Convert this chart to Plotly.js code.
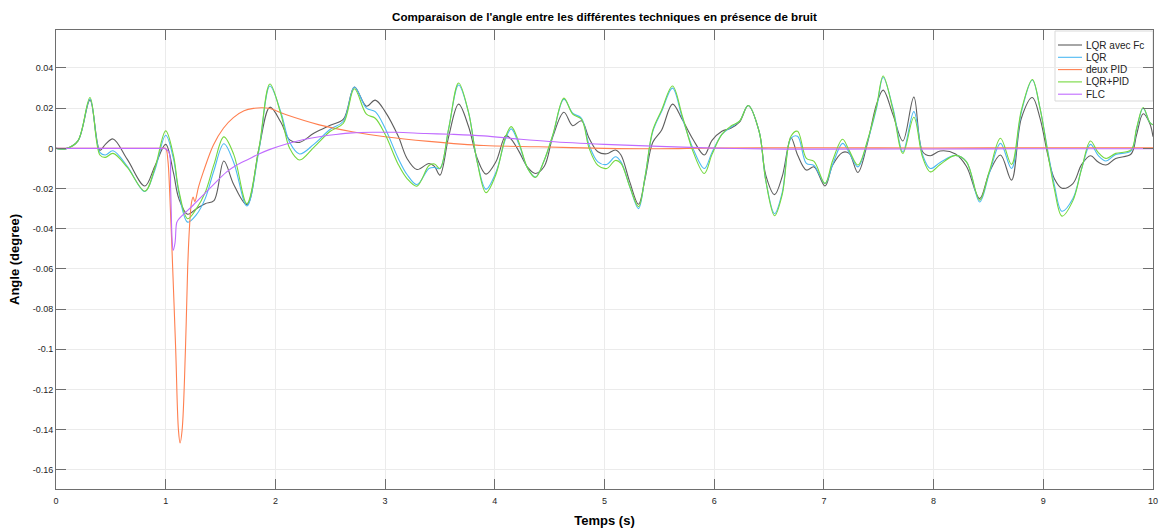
<!DOCTYPE html>
<html>
<head>
<meta charset="utf-8">
<script src="https://cdn.plot.ly/plotly-3.0.1.min.js"></script>
<style>
  html, body { margin: 0; padding: 0; background: #ffffff; }
  #chart { width: 1165px; height: 529px; }
</style>
</head>
<body>
<div id="chart"></div>
<script>
// Series labels and colours, in plotting order
const SERIES_NAMES = ['LQR avec Fc', 'LQR', 'deux PID', 'LQR+PID', 'FLC'];
const SERIES_COLORS = ['#5e5e5e', '#4cb9f2', '#ff7f4f', '#74d83e', '#c06bff'];

// Time base shared by the three LQR-type responses (s)
const T_LQR = [
  0, 0.1, 0.2, 0.31, 0.4, 0.45, 0.52, 0.65, 0.81, 0.9,
  1.0, 1.07, 1.12, 1.2, 1.28, 1.36, 1.44, 1.53, 1.62, 1.74,
  1.85, 1.95, 2.05, 2.13, 2.22, 2.35, 2.5, 2.62, 2.72, 2.83,
  2.91, 3.0, 3.12, 3.2, 3.29, 3.4, 3.45, 3.5, 3.58, 3.67,
  3.76, 3.84, 3.92, 4.01, 4.1, 4.15, 4.22, 4.3, 4.37, 4.45,
  4.53, 4.63, 4.71, 4.79, 4.86, 4.94, 5.02, 5.1, 5.15, 5.23,
  5.31, 5.37, 5.44, 5.52, 5.62, 5.71, 5.81, 5.91, 5.98, 6.07,
  6.15, 6.23, 6.31, 6.41, 6.47, 6.55, 6.62, 6.7, 6.76, 6.84,
  6.91, 7.01, 7.08, 7.17, 7.23, 7.31, 7.4, 7.48, 7.54, 7.63,
  7.72, 7.82, 7.9, 7.97, 8.06, 8.2, 8.3, 8.42, 8.51, 8.61,
  8.71, 8.8, 8.9, 8.97, 9.04, 9.1, 9.17, 9.27, 9.35, 9.43,
  9.5, 9.57, 9.66, 9.8, 9.85, 9.91, 9.97, 10.0
];

// LQR avec Fc (degree)
const LQR_FC = [
  0, 0, 0.0037, 0.024, -0.001, 0.002, 0.0047, -0.0055, -0.0187, -0.009,
  0.002, -0.012, -0.025, -0.0328, -0.030, -0.0275, -0.026, -0.0063, -0.018, -0.028,
  0.0, 0.0205, 0.013, 0.0042, 0.003, 0.0075, 0.0115, 0.0145, 0.0305, 0.021,
  0.024, 0.0183, 0.006, -0.005, -0.0105, -0.0075, -0.009, -0.0133, 0.006, 0.022,
  0.011, -0.005, -0.0128, -0.0067, 0.0063, 0.0045, -0.0015, -0.0095, -0.0125, -0.009,
  0.006, 0.018, 0.0113, 0.0137, 0.005, -0.0017, -0.0027, -0.0008, -0.0033, -0.0167,
  -0.0278, -0.015, 0.003, 0.009, 0.022, 0.0142, 0.0042, -0.0033, 0.004, 0.0085,
  0.01, 0.013, 0.0213, 0.0083, -0.0133, -0.023, -0.014, 0.0053, -0.0033, -0.0108,
  -0.0092, -0.0187, -0.0083, -0.002, -0.0025, -0.012, 0.0033, 0.022, 0.029, 0.0167,
  0.0037, 0.0255, -0.0017, -0.0037, -0.0013, -0.0028, -0.009, -0.025, -0.0117, -0.0033,
  -0.0158, 0.015, 0.0253, 0.015, -0.003, -0.015, -0.0198, -0.0175, -0.008, -0.0037,
  -0.0068, -0.0083, -0.005, -0.0028, 0.0067, 0.0172, 0.0125, 0.0058
];

// LQR (degree)
const LQR = [
  0, 0, 0.0037, 0.0245, -0.002, -0.0033, -0.0012, -0.009, -0.0215, -0.011,
  0.0065, -0.005, -0.022, -0.0367, -0.033, -0.025, -0.011, 0.0023, -0.007, -0.0287,
  -0.001, 0.031, 0.018, 0.003, -0.0028, 0.002, 0.0095, 0.0135, 0.0305, 0.02,
  0.0183, 0.01, -0.005, -0.013, -0.018, -0.01, -0.0095, -0.01, 0.01, 0.0315,
  0.018, -0.0067, -0.0203, -0.012, 0.005, 0.0097, 0.002, -0.01, -0.0143, -0.006,
  0.0067, 0.0245, 0.0175, 0.015, 0.0017, -0.0067, -0.008, -0.0042, -0.0067, -0.019,
  -0.03, -0.014, 0.0083, 0.0183, 0.03, 0.015, -0.0005, -0.01, -0.002, 0.007,
  0.0105, 0.0135, 0.0213, 0.0083, -0.016, -0.0325, -0.022, 0.005, 0.006, -0.0075,
  -0.0085, -0.0175, -0.008, 0.0025, -0.002, -0.0092, 0.004, 0.02, 0.0353, 0.02,
  -0.0017, 0.0183, -0.0033, -0.01, -0.007, -0.0035, -0.0067, -0.0267, -0.012, 0.0025,
  -0.01, 0.018, 0.034, 0.02, -0.001, -0.018, -0.0313, -0.025, -0.01, 0.002,
  -0.0035, -0.0063, -0.003, -0.0013, 0.0095, 0.02, 0.013, 0.0117
];

// LQR+PID (degree)
const LQR_PID = [
  0, 0, 0.0037, 0.0253, -0.0033, -0.0045, -0.0025, -0.0095, -0.0213, -0.01,
  0.0087, -0.0033, -0.021, -0.035, -0.03, -0.022, -0.008, 0.0057, -0.003, -0.0275,
  0.0, 0.032, 0.017, 0.0, -0.0058, 0.0005, 0.0085, 0.0125, 0.0297, 0.017,
  0.015, 0.007, -0.008, -0.015, -0.0188, -0.0085, -0.0078, -0.01, 0.01, 0.0325,
  0.018, -0.007, -0.022, -0.013, 0.006, 0.0108, 0.003, -0.01, -0.0145, -0.006,
  0.007, 0.025, 0.017, 0.0145, 0.0, -0.0085, -0.01, -0.006, -0.0075, -0.019,
  -0.029, -0.014, 0.009, 0.019, 0.031, 0.016, -0.002, -0.0125, -0.003, 0.007,
  0.011, 0.0135, 0.0213, 0.0083, -0.016, -0.0335, -0.023, 0.006, 0.0085, -0.005,
  -0.0065, -0.0175, -0.006, 0.0045, -0.001, -0.0083, 0.0045, 0.021, 0.036, 0.019,
  -0.0025, 0.0155, -0.0045, -0.0117, -0.008, -0.0035, -0.0067, -0.0258, -0.011, 0.005,
  -0.008, 0.019, 0.0343, 0.02, -0.002, -0.02, -0.0337, -0.026, -0.01, 0.0037,
  -0.002, -0.005, -0.0025, -0.0008, 0.01, 0.0203, 0.013, 0.0117
];

// deux PID (degree)
const T_PID = [
  0, 0.5, 0.9, 0.97, 1.0, 1.02, 1.035, 1.064, 1.091, 1.116,
  1.131, 1.15, 1.18, 1.2, 1.216, 1.235, 1.25, 1.265, 1.3, 1.343,
  1.435, 1.526, 1.617, 1.714, 1.8, 1.88, 1.95, 2.1, 2.4, 2.7,
  3.0, 3.4, 3.9, 4.4, 5.0, 5.5, 6.0, 7.0, 8.0, 9.0,
  10.0
];
const DEUX_PID = [
  0, 0, 0, 0, 0, -0.006, -0.02, -0.06, -0.1, -0.14,
  -0.1466, -0.14, -0.1, -0.06, -0.04, -0.027, -0.0242, -0.0265, -0.019, -0.0117,
  0.0017, 0.01, 0.0153, 0.0187, 0.0199, 0.0202, 0.0198, 0.0167, 0.0117, 0.0083,
  0.0058, 0.0035, 0.0014, 0.0008, 0.0, -0.0002, 0.0002, 0.0003, 0.0002, 0.0003,
  0.0003
];

// FLC (degree)
const T_FLC = [
  0, 0.5, 0.9, 0.96, 0.99, 1.03, 1.045, 1.058, 1.068, 1.085,
  1.1, 1.115, 1.25, 1.4, 1.556, 1.64, 1.75, 1.85, 1.95, 2.1,
  2.25, 2.4, 2.55, 2.7, 2.9, 3.1, 3.37, 3.6, 3.9, 4.2,
  4.5, 5.0, 5.5, 6.0, 6.5, 7.0, 8.0, 9.0, 10.0
];
const FLC = [
  0, 0, 0, 0, 0, -0.002, -0.02, -0.045, -0.0507, -0.047,
  -0.037, -0.0355, -0.0283, -0.02, -0.0117, -0.0085, -0.0055, -0.0028, -0.0005, 0.0022,
  0.0043, 0.0058, 0.0069, 0.0077, 0.008, 0.008, 0.0074, 0.007, 0.0062, 0.0047,
  0.0034, 0.002, 0.001, 0.0001, -0.0003, -0.0004, -0.0003, -0.0002, -0.0002
];

// Axis ticks
const X_TICKS = [0, 1, 2, 3, 4, 5, 6, 7, 8, 9, 10];
const Y_TICKS = [-0.16, -0.14, -0.12, -0.1, -0.08, -0.06, -0.04, -0.02, 0, 0.02, 0.04];

const FONT = 'Liberation Sans, Arial, Helvetica, sans-serif';
const AXIS_COLOR = '#6e6e6e';
const GRID_COLOR = '#ebebeb';

const seriesX = [T_LQR, T_LQR, T_PID, T_LQR, T_FLC];
const seriesY = [LQR_FC, LQR, DEUX_PID, LQR_PID, FLC];

const traces = SERIES_NAMES.map((name, i) => ({
  type: 'scatter',
  mode: 'lines',
  name: name,
  x: seriesX[i],
  y: seriesY[i],
  line: { color: SERIES_COLORS[i], width: 1.1, shape: 'spline', smoothing: 1 },
  showlegend: false,
  hoverinfo: 'skip'
}));

// Plot area in page pixels
const W = 1165, H = 529;
const M = { l: 56, r: 12, t: 30, b: 40 };
const PW = W - M.l - M.r, PH = H - M.t - M.b;
const px = x => (x - M.l) / PW;
const py = y => (H - M.b - y) / PH;

// Boxed legend in the upper right corner
const shapes = [{
  type: 'rect', xref: 'paper', yref: 'paper', layer: 'between',
  x0: px(1055), x1: 1, y0: py(101), y1: py(31),
  fillcolor: '#ffffff', line: { color: '#d9d9d9', width: 1 }
}];
const annotations = [];
SERIES_NAMES.forEach((name, i) => {
  const rowY = 45 + i * 12.3;
  shapes.push({
    type: 'line', xref: 'paper', yref: 'paper', layer: 'above',
    x0: px(1058), x1: px(1082), y0: py(rowY), y1: py(rowY),
    line: { color: SERIES_COLORS[i], width: 1.1 }
  });
  annotations.push({
    xref: 'paper', yref: 'paper', x: px(1084), y: py(rowY),
    xanchor: 'left', yanchor: 'middle', showarrow: false,
    text: name, font: { family: FONT, size: 10, color: '#222222' }
  });
});

const axisCommon = {
  showline: true, linecolor: AXIS_COLOR, linewidth: 1, mirror: 'ticks',
  ticks: 'inside', ticklen: 10, tickcolor: AXIS_COLOR, tickwidth: 1,
  showgrid: true, gridcolor: GRID_COLOR, gridwidth: 1,
  zeroline: false, automargin: false,
  tickfont: { family: FONT, size: 9, color: '#262626' }
};

const layout = {
  width: W, height: H,
  margin: M,
  paper_bgcolor: '#ffffff', plot_bgcolor: '#ffffff',
  showlegend: false,
  title: {
    text: "Comparaison de l'angle entre les différentes techniques en présence de bruit",
    font: { family: FONT, size: 11.6, color: '#000000', weight: 'bold' },
    x: px(604.5), xref: 'paper', xanchor: 'center',
    y: 1 - 17 / H, yref: 'container', yanchor: 'middle'
  },
  xaxis: Object.assign({}, axisCommon, {
    range: [0, 10],
    tickvals: X_TICKS, ticktext: X_TICKS.map(String),
    ticklabelstandoff: 3,
    title: { text: 'Temps (s)', font: { family: FONT, size: 13, color: '#000000', weight: 'bold' }, standoff: 11 }
  }),
  yaxis: Object.assign({}, axisCommon, {
    range: [-0.1695, 0.0589],
    tickvals: Y_TICKS, ticktext: Y_TICKS.map(v => String(Math.round(v * 100) / 100)),
    title: { text: 'Angle (degree)', font: { family: FONT, size: 13, color: '#000000', weight: 'bold' }, standoff: 10 }
  }),
  shapes: shapes,
  annotations: annotations
};

Plotly.newPlot('chart', traces, layout, { staticPlot: true, displayModeBar: false });
</script>
</body>
</html>
